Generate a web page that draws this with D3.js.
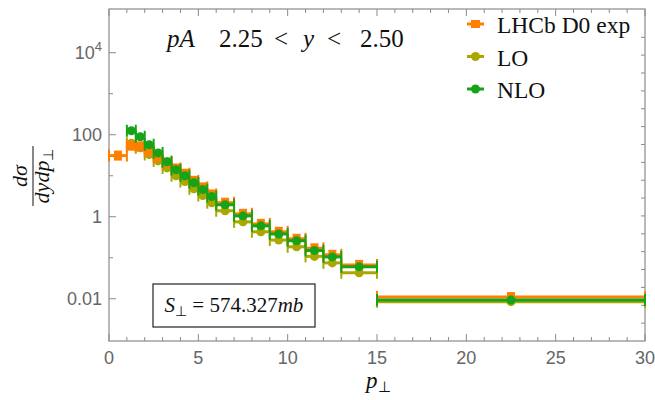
<!DOCTYPE html>
<html>
<head>
<meta charset="utf-8">
<script src="https://cdn.jsdelivr.net/npm/d3@7"></script>
<style>
body { margin: 0; background: #fff; }
.tick-label { font-family: "Liberation Sans", Arial, sans-serif; font-size: 18px; fill: #666; }
.math { font-family: "Liberation Serif", "Times New Roman", serif; fill: #111; }
</style>
</head>
<body>
<div id="vis"></div>
<script>
const frame_width = 655;
const frame_height = 400;
const margins = {left: 109, right: 10, top: 9, bottom: 59};

// pT bins (GeV)
const bin_lo = [0, 1, 1.5, 2, 2.5, 3, 3.5, 4, 4.5, 5, 5.5, 6, 7, 8, 9, 10, 11, 12, 13, 15];
const bin_hi = [1, 1.5, 2, 2.5, 3, 3.5, 4, 4.5, 5, 5.5, 6, 7, 8, 9, 10, 11, 12, 13, 15, 30];

// dsigma / dy dpT
const lhcb_d0 = [31, 54, 52, 40, 29, 21, 15, 11.2, 7.5, 5.2, 3.5, 2.2, 1.18, 0.67, 0.43, 0.29, 0.17, 0.118, 0.067, 0.011];
const lo_vals = [null, 62, 48, 33, 23, 15.5, 10, 7.2, 4.8, 3.3, 2.2, 1.4, 0.75, 0.43, 0.27, 0.185, 0.108, 0.075, 0.043, 0.0085];
const nlo_vals = [null, 125, 89, 57, 36, 22, 14, 10, 6.7, 4.6, 3.1, 1.96, 1.05, 0.6, 0.38, 0.26, 0.15, 0.105, 0.06, 0.0093];

const series_names = ["LHCb D0 exp", "LO", "NLO"];
const series_colors = ["#ff7f00", "#aaa800", "#17a317"];

const x_ticks = [0, 5, 10, 15, 20, 25, 30];
const y_ticks = [0.01, 1, 100, 10000];
const y_tick_labels = ["0.01", "1", "100", "10^4"];

const frame =
d3.select("#vis")
    .append("svg")
        .attr("width", frame_width)
        .attr("height", frame_height);

const x_scale =
d3.scaleLinear()
    .domain([0, 30])
    .range([margins.left, frame_width - margins.right]);

const y_scale =
d3.scaleLog()
    .domain([Math.pow(10, -3.03), Math.pow(10, 5.066)])
    .range([frame_height - margins.bottom, margins.top]);

const x0 = x_scale.range()[0], x1 = x_scale.range()[1];
const y0 = y_scale.range()[0], y1 = y_scale.range()[1];
const axis_color = "#8a8a8a";

// frame
frame.append("rect")
    .attr("x", x0).attr("y", y1)
    .attr("width", x1 - x0).attr("height", y0 - y1)
    .attr("fill", "none")
    .attr("stroke", axis_color)
    .attr("stroke-width", 1.2);

// x ticks on bottom and top, minor every 1
d3.range(0, 31, 1).forEach((t) => {
    const len = (t % 5 == 0) ? 7 : 4;
    const x = x_scale(t);
    frame.append("line").attr("x1", x).attr("x2", x).attr("y1", y0).attr("y2", y0 - len)
        .attr("stroke", axis_color);
    frame.append("line").attr("x1", x).attr("x2", x).attr("y1", y1).attr("y2", y1 + len)
        .attr("stroke", axis_color);
});

frame.selectAll(".xlab")
    .data(x_ticks)
    .enter()
    .append("text")
        .attr("class", "tick-label")
        .attr("x", (d) => x_scale(d))
        .attr("y", 364)
        .attr("text-anchor", "middle")
        .text((d) => d);

// y ticks every decade on the left
d3.range(-2, 5).forEach((p) => {
    const y = y_scale(Math.pow(10, p));
    const len = (p % 2 == 0) ? 7 : 4;
    frame.append("line").attr("x1", x0).attr("x2", x0 + len).attr("y1", y).attr("y2", y)
        .attr("stroke", axis_color);
});

// right side ticks
d3.range(1, 18).forEach((k) => {
    const y = y0 - k * (x_scale(1) - x_scale(0));
    frame.append("line").attr("x1", x1).attr("x2", x1 - 4).attr("y1", y).attr("y2", y)
        .attr("stroke", axis_color);
});

y_ticks.forEach((t, i) => {
    const lab = frame.append("text")
        .attr("class", "tick-label")
        .attr("x", 102)
        .attr("y", y_scale(t) + 6)
        .attr("text-anchor", "end");
    const parts = y_tick_labels[i].split("^");
    lab.append("tspan").text(parts[0]);
    if (parts.length > 1) {
        lab.append("tspan").attr("dy", -8).attr("font-size", "13px").text(parts[1]);
    }
});

// bin bars with end caps and a marker at the bin centre
function draw_series(vals, color, square) {
    const pts = vals.map((v, i) => ({lo: bin_lo[i], hi: bin_hi[i], v: v}))
        .filter((d) => d.v != null);
    const g = frame.append("g");
    g.selectAll(".bar")
        .data(pts)
        .enter()
        .append("line")
            .attr("x1", (d) => x_scale(d.lo))
            .attr("x2", (d) => x_scale(d.hi))
            .attr("y1", (d) => y_scale(d.v))
            .attr("y2", (d) => y_scale(d.v))
            .attr("stroke", color)
            .attr("stroke-width", 3);
    ["lo", "hi"].forEach((k) => {
        g.selectAll(".cap-" + k)
            .data(pts)
            .enter()
            .append("line")
                .attr("x1", (d) => x_scale(d[k]))
                .attr("x2", (d) => x_scale(d[k]))
                .attr("y1", (d) => y_scale(d.v) - 6)
                .attr("y2", (d) => y_scale(d.v) + 6)
                .attr("stroke", color)
                .attr("stroke-width", 2);
    });
    if (square) {
        g.selectAll(".mk")
            .data(pts)
            .enter()
            .append("rect")
                .attr("x", (d) => x_scale((d.lo + d.hi) / 2) - 4)
                .attr("y", (d) => y_scale(d.v) - 5)
                .attr("width", 8)
                .attr("height", 10)
                .attr("fill", color);
    } else {
        g.selectAll(".mk")
            .data(pts)
            .enter()
            .append("circle")
                .attr("cx", (d) => x_scale((d.lo + d.hi) / 2))
                .attr("cy", (d) => y_scale(d.v))
                .attr("r", 4.5)
                .attr("fill", color);
    }
}

draw_series(lo_vals, series_colors[1], false);
draw_series(lhcb_d0, series_colors[0], true);
draw_series(nlo_vals, series_colors[2], false);

// legend
series_names.forEach((name, i) => {
    const y = 24 + i * 32.5;
    const color = series_colors[i];
    frame.append("line").attr("x1", 467).attr("x2", 484).attr("y1", y).attr("y2", y)
        .attr("stroke", color).attr("stroke-width", 3);
    if (i == 0) {
        frame.append("rect").attr("x", 471).attr("y", y - 4).attr("width", 9).attr("height", 8)
            .attr("fill", color);
    } else {
        frame.append("circle").attr("cx", 475.5).attr("cy", y).attr("r", 4.5).attr("fill", color);
    }
    frame.append("text")
        .attr("class", "math")
        .attr("x", 497)
        .attr("y", y + 9)
        .attr("font-size", "23.5px")
        .text(name);
});

// title inside the frame
const title = frame.append("text")
    .attr("class", "math")
    .attr("x", 167)
    .attr("y", 47)
    .attr("font-size", "25px");
title.append("tspan").attr("font-style", "italic").text("pA");
title.append("tspan").attr("x", 219).text("2.25");
title.append("tspan").attr("x", 274).text("<");
title.append("tspan").attr("x", 303).attr("font-style", "italic").text("y");
title.append("tspan").attr("x", 327).text("<");
title.append("tspan").attr("x", 360).text("2.50");

// S_perp box
frame.append("rect")
    .attr("x", 153).attr("y", 284)
    .attr("width", 162).attr("height", 43)
    .attr("fill", "#fff")
    .attr("stroke", "#222")
    .attr("stroke-width", 1.2);
const s_text = frame.append("text")
    .attr("class", "math")
    .attr("x", 234)
    .attr("y", 312)
    .attr("text-anchor", "middle")
    .attr("font-size", "21px");
s_text.append("tspan").attr("font-style", "italic").text("S");
s_text.append("tspan").attr("dy", 4).attr("font-size", "14px").text("\u22a5");
s_text.append("tspan").attr("dy", -4).text(" = 574.327");
s_text.append("tspan").attr("font-style", "italic").text("mb");

// axis labels
const x_label = frame.append("text")
    .attr("class", "math")
    .attr("x", 366)
    .attr("y", 388)
    .attr("font-size", "23px");
x_label.append("tspan").attr("font-style", "italic").text("p");
x_label.append("tspan").attr("dy", 4).attr("font-size", "15px").text("\u22a5");

const y_label = frame.append("g")
    .attr("transform", "translate(33,176) rotate(-90)");
y_label.append("line")
    .attr("x1", -30).attr("x2", 30).attr("y1", 0).attr("y2", 0)
    .attr("stroke", "#111").attr("stroke-width", 1);
y_label.append("text")
    .attr("class", "math")
    .attr("x", 0).attr("y", -6)
    .attr("text-anchor", "middle")
    .attr("font-size", "22px")
    .attr("font-style", "italic")
    .text("d\u03c3");
const den = y_label.append("text")
    .attr("class", "math")
    .attr("x", 0).attr("y", 16)
    .attr("text-anchor", "middle")
    .attr("font-size", "22px")
    .attr("font-style", "italic");
den.append("tspan").text("dydp");
den.append("tspan").attr("dy", 4).attr("font-size", "14px").attr("font-style", "normal").text("\u22a5");
</script>
</body>
</html>
